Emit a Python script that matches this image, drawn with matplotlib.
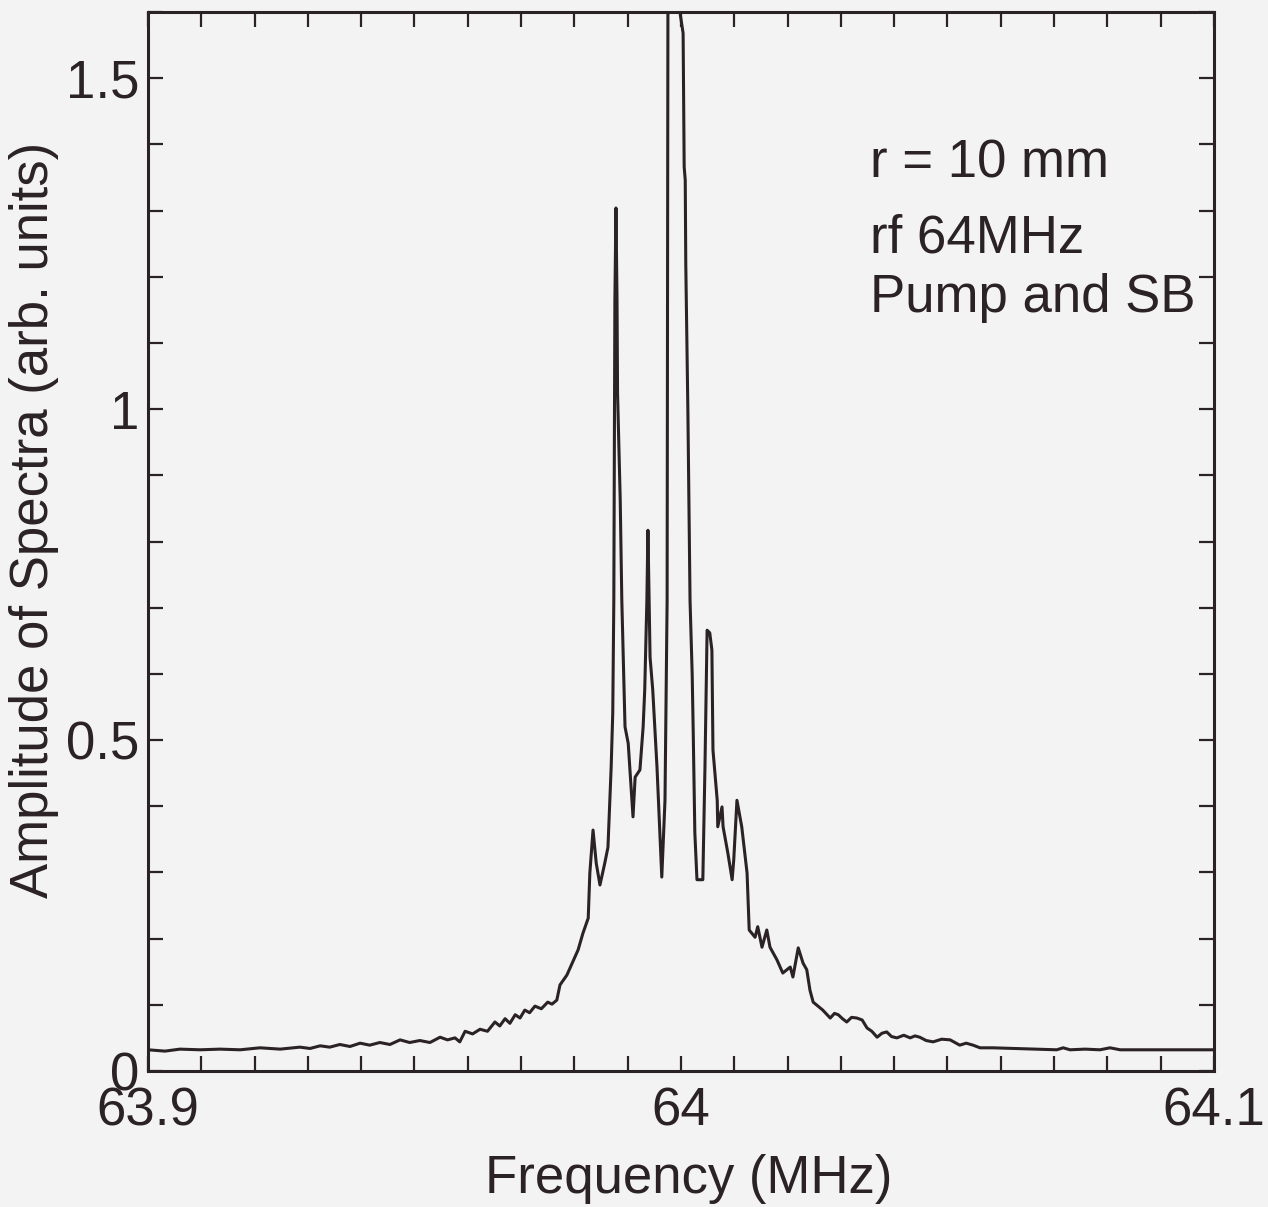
import matplotlib
matplotlib.use('Agg')
import matplotlib.pyplot as plt
from matplotlib.ticker import MultipleLocator

# spectrum (frequency in MHz, amplitude in arb. units)
freq = [63.9000, 63.9032, 63.9060, 63.9098, 63.9135, 63.9173, 63.9210, 63.9248,
        63.9285, 63.9304, 63.9323, 63.9341, 63.9360, 63.9379, 63.9398, 63.9416,
        63.9435, 63.9454, 63.9473, 63.9491, 63.9510, 63.9529, 63.9548, 63.9562,
        63.9576, 63.9585, 63.9595, 63.9609, 63.9623, 63.9637, 63.9651, 63.9660,
        63.9670, 63.9679, 63.9689, 63.9698, 63.9707, 63.9716, 63.9726, 63.9738,
        63.9750, 63.9758, 63.9767, 63.9773, 63.9786, 63.9797, 63.9807, 63.9816,
        63.9826, 63.9829, 63.9835, 63.9841, 63.9848, 63.9857, 63.9863, 63.9869,
        63.9872, 63.9874, 63.9876, 63.9878, 63.9880, 63.9881, 63.9886, 63.9889,
        63.9895, 63.9901, 63.9910, 63.9914, 63.9923, 63.9929, 63.9932, 63.9936,
        63.9938, 63.9942, 63.9947, 63.9955, 63.9961, 63.9964, 63.9970, 63.9974,
        63.9976, 63.9996, 63.9998, 64.0004, 64.0006, 64.0008, 64.0009, 64.0013,
        64.0017, 64.0021, 64.0023, 64.0026, 64.0030, 64.0041, 64.0045, 64.0047,
        64.0049, 64.0054, 64.0058, 64.0060, 64.0068, 64.0069, 64.0077, 64.0079,
        64.0088, 64.0096, 64.0099, 64.0105, 64.0114, 64.0124, 64.0128, 64.0139,
        64.0144, 64.0152, 64.0161, 64.0167, 64.0180, 64.0191, 64.0205, 64.0210,
        64.0220, 64.0229, 64.0236, 64.0242, 64.0248, 64.0257, 64.0266, 64.0273,
        64.0280, 64.0288, 64.0295, 64.0303, 64.0311, 64.0320, 64.0330, 64.0340,
        64.0349, 64.0358, 64.0368, 64.0377, 64.0386, 64.0395, 64.0405, 64.0418,
        64.0430, 64.0439, 64.0448, 64.0460, 64.0473, 64.0489, 64.0505, 64.0514,
        64.0523, 64.0535, 64.0548, 64.0561, 64.0585, 64.0705, 64.0717, 64.0730,
        64.0758, 64.0786, 64.0805, 64.0824, 64.1000]
amp = [0.032, 0.030, 0.033, 0.032, 0.033, 0.032, 0.035, 0.033,
       0.036, 0.034, 0.038, 0.036, 0.040, 0.037, 0.042, 0.039,
       0.043, 0.040, 0.047, 0.043, 0.046, 0.043, 0.051, 0.047,
       0.050, 0.044, 0.060, 0.056, 0.063, 0.060, 0.074, 0.068,
       0.079, 0.072, 0.085, 0.080, 0.092, 0.088, 0.098, 0.094,
       0.104, 0.101, 0.107, 0.130, 0.145, 0.165, 0.183, 0.208,
       0.231, 0.299, 0.364, 0.314, 0.281, 0.314, 0.338, 0.459,
       0.541, 0.711, 1.165, 1.304, 1.165, 1.024, 0.863, 0.711,
       0.520, 0.495, 0.384, 0.444, 0.455, 0.520, 0.576, 0.711,
       0.817, 0.625, 0.576, 0.459, 0.349, 0.293, 0.409, 0.711,
       1.900, 1.900, 1.600, 1.568, 1.366, 1.346, 1.220, 0.994,
       0.711, 0.600, 0.511, 0.360, 0.289, 0.289, 0.459, 0.560,
       0.666, 0.662, 0.636, 0.485, 0.409, 0.369, 0.399, 0.369,
       0.329, 0.289, 0.319, 0.409, 0.369, 0.299, 0.213, 0.202,
       0.218, 0.187, 0.213, 0.187, 0.168, 0.148, 0.157, 0.142,
       0.186, 0.163, 0.153, 0.122, 0.104, 0.098, 0.092, 0.086,
       0.080, 0.087, 0.085, 0.079, 0.074, 0.081, 0.080, 0.077,
       0.065, 0.060, 0.051, 0.057, 0.059, 0.052, 0.050, 0.054,
       0.050, 0.053, 0.051, 0.046, 0.044, 0.048, 0.047, 0.043,
       0.039, 0.042, 0.039, 0.035, 0.035, 0.032, 0.035, 0.032,
       0.033, 0.032, 0.035, 0.032, 0.032]

notes = ['r = 10 mm', 'rf 64MHz', 'Pump and SB']
noteY = [1.350, 1.236, 1.147]

ink = '#2b2226'
paper = '#f3f3f3'


def drawSpectrum():
    plt.rcParams['font.family'] = ['Liberation Sans', 'DejaVu Sans']
    fig = plt.figure(figsize=(12.68, 12.07), dpi=100, facecolor=paper)
    ax = fig.add_axes([0.1167, 0.1127, 0.8407, 0.8773])
    ax.set_facecolor(paper)

    ax.plot(freq, amp, color=ink, lw=2.2)

    ax.set_xlim(63.9, 64.1)
    ax.set_ylim(0, 1.6)
    ax.set_xticks([63.9, 64.0, 64.1])
    ax.set_xticklabels(['63.9', '64', '64.1'])
    ax.set_yticks([0, 0.5, 1.0, 1.5])
    ax.set_yticklabels(['0', '0.5', '1', '1.5'])
    ax.xaxis.set_minor_locator(MultipleLocator(0.01))
    ax.yaxis.set_minor_locator(MultipleLocator(0.1))

    ax.tick_params(which='both', direction='in', top=True, right=True,
                   length=11, width=1.6, color=ink)
    ax.tick_params(axis='x', which='major', labelsize=38, pad=11, labelcolor=ink)
    ax.tick_params(axis='y', which='major', labelsize=38, pad=6, labelcolor=ink)
    for sp in ax.spines.values():
        sp.set_linewidth(2.2)
        sp.set_color(ink)

    ax.set_xlabel('Frequency (MHz)', fontsize=38, color=ink)
    ax.set_ylabel('Amplitude of Spectra (arb. units)', fontsize=38, color=ink)
    ax.xaxis.set_label_coords(0.5075, -0.078)
    ax.yaxis.set_label_coords(-0.083, 0.52)

    for t, y in zip(notes, noteY):
        ax.text(64.0355, y, t, fontsize=38, color=ink, va='baseline', ha='left')

    fig.savefig('out.png', dpi=100, facecolor=paper)


if __name__ == '__main__':
    drawSpectrum()
